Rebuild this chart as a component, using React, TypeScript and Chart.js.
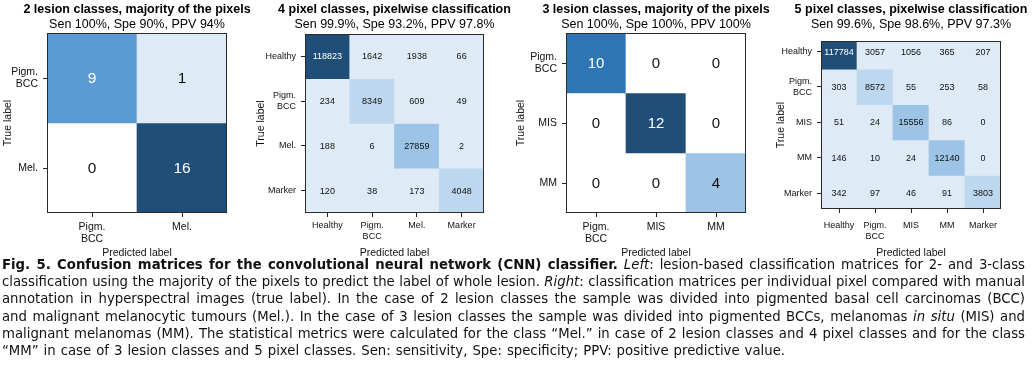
import React, { useEffect, useRef } from 'react';
import { Chart, registerables } from 'chart.js';

Chart.register(...registerables);

// ---------- DATA ----------
const p1Title = '2 lesion classes, majority of the pixels';
const p1Subtitle = 'Sen 100%, Spe 90%, PPV 94%';
const p1Classes: (string | string[])[] = [['Pigm.', 'BCC'], 'Mel.'];
const p1Values: number[][] = [
  [9, 1],
  [0, 16],
];

const p2Title = '4 pixel classes, pixelwise classification';
const p2Subtitle = 'Sen 99.9%, Spe 93.2%, PPV 97.8%';
const p2Classes: (string | string[])[] = ['Healthy', ['Pigm.', 'BCC'], 'Mel.', 'Marker'];
const p2Values: number[][] = [
  [118823, 1642, 1938, 66],
  [234, 8349, 609, 49],
  [188, 6, 27859, 2],
  [120, 38, 173, 4048],
];

const p3Title = '3 lesion classes, majority of the pixels';
const p3Subtitle = 'Sen 100%, Spe 100%, PPV 100%';
const p3Classes: (string | string[])[] = [['Pigm.', 'BCC'], 'MIS', 'MM'];
const p3Values: number[][] = [
  [10, 0, 0],
  [0, 12, 0],
  [0, 0, 4],
];

const p4Title = '5 pixel classes, pixelwise classification';
const p4Subtitle = 'Sen 99.6%, Spe 98.6%, PPV 97.3%';
const p4Classes: (string | string[])[] = ['Healthy', ['Pigm.', 'BCC'], 'MIS', 'MM', 'Marker'];
const p4Values: number[][] = [
  [117784, 3057, 1056, 365, 207],
  [303, 8572, 55, 253, 58],
  [51, 24, 15556, 86, 0],
  [146, 10, 24, 12140, 0],
  [342, 97, 46, 91, 3803],
];

const xAxisTitle = 'Predicted label';
const yAxisTitle = 'True label';

// ---------- STYLE ----------
const FONT = '"Liberation Sans", Arial, sans-serif';
const C_WHITE = '#ffffff';
const C_L80 = '#DEEBF7';
const C_L60 = '#BDD7EE';
const C_L40 = '#9DC3E6';
const C_BASE = '#5B9BD5';
const C_D25 = '#2E75B6';
const C_D50 = '#1F4E79';
const DARK = [C_BASE, C_D25, C_D50];

function lesionColor(v: number, max: number) {
  if (v === 0) return C_WHITE;
  const t = v / max;
  if (t < 0.2) return C_L80;
  if (t < 0.5) return C_L40;
  if (t < 0.7) return C_BASE;
  if (t < 0.95) return C_D25;
  return C_D50;
}
function pixelColor(v: number, max: number) {
  const t = v / max;
  if (t < 0.03) return C_L80;
  if (t < 0.09) return C_L60;
  if (t < 0.5) return C_L40;
  return C_D50;
}

type PanelCfg = {
  title: string;
  subtitle: string;
  classes: (string | string[])[];
  values: number[][];
  colorFn: (v: number, max: number) => string;
  canvasLeft: number;
  canvasWidth: number;
  plotLeft: number;
  plotRight: number;
  plotTop: number;
  plotBottom: number;
  yMin?: number;
  yMax?: number;
  tickFont: number;
  cellFont: number;
  xTickPad: number;
  yTitleX: number;
};

const CANVAS_H = 262;

const panels: PanelCfg[] = [
  {
    title: p1Title, subtitle: p1Subtitle, classes: p1Classes, values: p1Values, colorFn: lesionColor,
    canvasLeft: 0, canvasWidth: 255, plotLeft: 47, plotRight: 227, plotTop: 33, plotBottom: 213,
    tickFont: 10.5, cellFont: 15.5, xTickPad: 3.7, yTitleX: 8,
  },
  {
    title: p2Title, subtitle: p2Subtitle, classes: p2Classes, values: p2Values, colorFn: pixelColor,
    canvasLeft: 255, canvasWidth: 258, plotLeft: 305, plotRight: 484, plotTop: 34, plotBottom: 213,
    tickFont: 9, cellFont: 9, xTickPad: 3.6, yTitleX: 6.5,
  },
  {
    title: p3Title, subtitle: p3Subtitle, classes: p3Classes, values: p3Values, colorFn: lesionColor,
    canvasLeft: 513, canvasWidth: 260, plotLeft: 566, plotRight: 746, plotTop: 33, plotBottom: 213,
    tickFont: 10.5, cellFont: 15, xTickPad: 3.7, yTitleX: 8,
  },
  {
    title: p4Title, subtitle: p4Subtitle, classes: p4Classes, values: p4Values, colorFn: pixelColor,
    canvasLeft: 773, canvasWidth: 259, plotLeft: 821, plotRight: 1001, plotTop: 41, plotBottom: 209,
    yMin: -0.3, yMax: 4.45,
    tickFont: 9, cellFont: 9, xTickPad: 7.6, yTitleX: 8,
  },
];

function Matrix({ cfg }: { cfg: PanelCfg }) {
  const ref = useRef<HTMLCanvasElement | null>(null);
  useEffect(() => {
    if (!ref.current) return;
    const n = cfg.classes.length;
    const max = Math.max(...cfg.values.flat());
    const colors = cfg.values.map((row) => row.map((v) => cfg.colorFn(v, max)));
    const datasets = cfg.values.map((row, r) => ({
      label: String(r),
      data: row.map(() => [r - 0.5, r + 0.5] as [number, number]),
      backgroundColor: colors[r],
      borderWidth: 0,
      grouped: false,
      categoryPercentage: 1,
      barPercentage: 1,
      clip: 0,
    }));
    const yw = cfg.plotLeft - cfg.canvasLeft;
    const padRight = cfg.canvasWidth - (cfg.plotRight - cfg.canvasLeft);
    const xh = CANVAS_H - cfg.plotBottom;
    const axisTitleSize = 10.5;
    const lh = axisTitleSize * 1.2;
    const titleCx = (cfg.plotLeft + cfg.plotRight) / 2 - cfg.canvasLeft;

    const matrixPlugin = {
      id: 'matrixCells',
      afterDatasetsDraw(chart: any) {
        const { ctx, chartArea: a } = chart;
        ctx.save();
        ctx.beginPath();
        ctx.rect(a.left, a.top, a.right - a.left, a.bottom - a.top);
        ctx.clip();
        ctx.font = `${cfg.cellFont}px ${FONT}`;
        ctx.textAlign = 'center';
        ctx.textBaseline = 'middle';
        chart.data.datasets.forEach((_: any, r: number) => {
          const meta = chart.getDatasetMeta(r);
          meta.data.forEach((el: any, c: number) => {
            const p = el.getCenterPoint();
            const v = cfg.values[r][c];
            ctx.fillStyle = DARK.includes(colors[r][c]) ? '#ffffff' : '#111111';
            ctx.fillText(String(v), p.x, p.y + 0.5);
          });
        });
        ctx.restore();
        ctx.save();
        ctx.strokeStyle = '#2a2a2a';
        ctx.lineWidth = 1;
        ctx.strokeRect(Math.round(a.left) + 0.5, Math.round(a.top) + 0.5,
          Math.round(a.right - a.left) - 1, Math.round(a.bottom - a.top) - 1);
        ctx.restore();
      },
      afterDraw(chart: any) {
        const { ctx } = chart;
        ctx.save();
        ctx.fillStyle = '#000';
        ctx.textAlign = 'center';
        ctx.textBaseline = 'alphabetic';
        ctx.font = `bold 12.5px ${FONT}`;
        ctx.fillText(cfg.title, titleCx, 12.7);
        ctx.font = `12.5px ${FONT}`;
        ctx.fillText(cfg.subtitle, titleCx, 27.5);
        ctx.restore();
      },
    };

    const chart = new Chart(ref.current, {
      type: 'bar',
      data: { labels: cfg.classes as any, datasets: datasets as any },
      options: {
        animation: false,
        responsive: false,
        devicePixelRatio: 1,
        layout: { padding: { left: 0, top: cfg.plotTop, right: padRight, bottom: 0 } },
        plugins: {
          legend: { display: false },
          tooltip: { enabled: false },
          title: { display: false },
        },
        scales: {
          x: {
            type: 'category',
            offset: true,
            grid: { offset: false, drawOnChartArea: false, drawTicks: true, tickLength: 4, tickColor: '#222', tickWidth: 1 },
            border: { display: false },
            ticks: { font: { size: cfg.tickFont, family: FONT }, color: '#111', padding: cfg.xTickPad, maxRotation: 0, autoSkip: false },
            title: { display: true, text: xAxisTitle, color: '#111', font: { size: axisTitleSize, family: FONT }, padding: { top: 0, bottom: 3 } },
            afterFit: (s: any) => { s.height = xh; },
          },
          y: {
            type: 'linear',
            reverse: true,
            min: cfg.yMin ?? -0.5,
            max: cfg.yMax ?? n - 0.5,
            afterBuildTicks: (s: any) => { s.ticks = cfg.classes.map((_, i) => ({ value: i })); },
            afterFit: (s: any) => { s.width = yw; },
            grid: { drawOnChartArea: false, drawTicks: true, tickLength: 4, tickColor: '#222', tickWidth: 1 },
            border: { display: false },
            ticks: {
              font: { size: cfg.tickFont, family: FONT }, color: '#111', padding: 5, autoSkip: false,
              callback: (v: any) => cfg.classes[Math.round(Number(v))] as any,
            },
            title: { display: true, text: yAxisTitle, color: '#111', font: { size: axisTitleSize, family: FONT }, padding: { top: Math.max(cfg.yTitleX - lh / 2, 0), bottom: 0 } },
          },
        },
      } as any,
      plugins: [matrixPlugin as any],
    });
    return () => chart.destroy();
  }, [cfg]);
  return (
    <canvas
      ref={ref}
      width={cfg.canvasWidth}
      height={CANVAS_H}
      style={{ position: 'absolute', left: cfg.canvasLeft, top: 0, width: cfg.canvasWidth, height: CANVAS_H }}
    />
  );
}

const captionStyle: React.CSSProperties = {
  fontFamily: '"DejaVu Sans", Verdana, sans-serif',
  fontSize: 13.25,
  lineHeight: '17.2px',
  color: '#111',
  whiteSpace: 'nowrap',
};
const justified: React.CSSProperties = { textAlign: 'justify', textAlignLast: 'justify' };

export default function App() {
  return (
    <div style={{ position: 'absolute', left: 0, top: 0, width: 1032, height: 380, overflow: 'hidden', background: '#fff' }}>
      {panels.map((p, i) => (
        <Matrix key={i} cfg={p} />
      ))}
      <div style={{ position: 'absolute', left: 2, top: 256, width: 1023, ...captionStyle }}>
        <div style={justified}>
          <b>Fig. 5. Confusion matrices for the convolutional neural network (CNN) classifier.</b> <i>Left</i>: lesion-based classification matrices for 2- and 3-class
        </div>
        <div style={justified}>
          classification using the majority of the pixels to predict the label of whole lesion. <i>Right</i>: classification matrices per individual pixel compared with manual
        </div>
        <div style={justified}>
          annotation in hyperspectral images (true label). In the case of 2 lesion classes the sample was divided into pigmented basal cell carcinomas (BCC)
        </div>
        <div style={justified}>
          and malignant melanocytic tumours (Mel.). In the case of 3 lesion classes the sample was divided into pigmented BCCs, melanomas <i>in situ</i> (MIS) and
        </div>
        <div style={justified}>
          malignant melanomas (MM). The statistical metrics were calculated for the class “Mel.” in case of 2 lesion classes and 4 pixel classes and for the class
        </div>
        <div style={{ ...justified, width: 783 }}>
          “MM” in case of 3 lesion classes and 5 pixel classes. Sen: sensitivity, Spe: specificity; PPV: positive predictive value.
        </div>
      </div>
    </div>
  );
}
